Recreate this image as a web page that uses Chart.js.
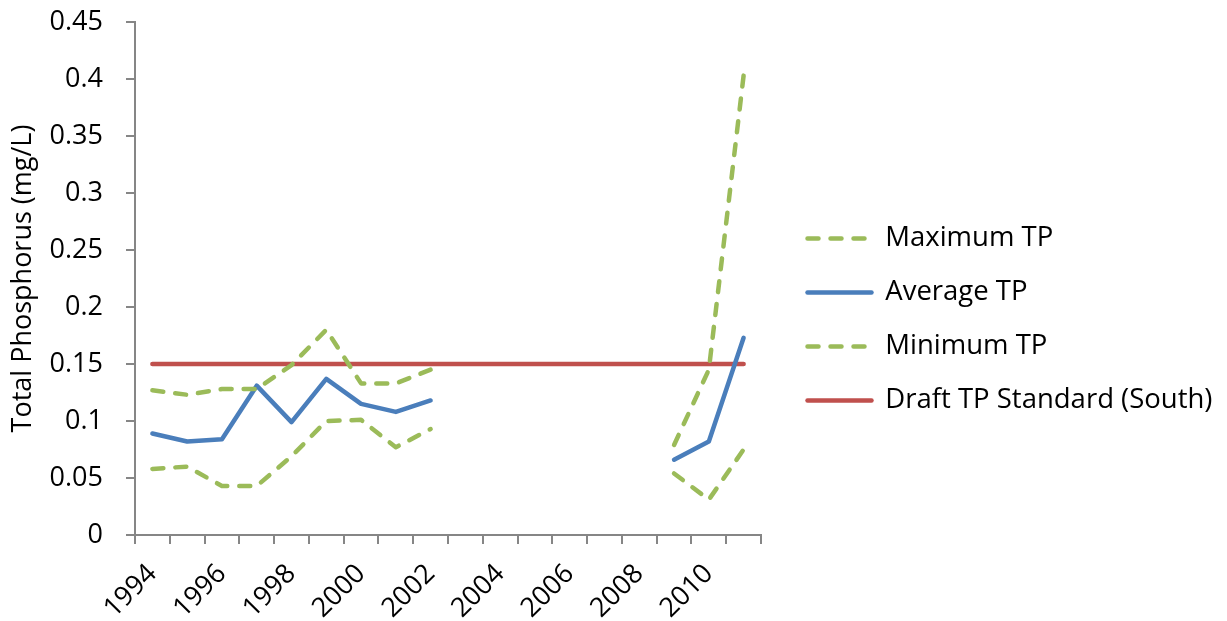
<!DOCTYPE html>
<html>
<head>
<meta charset="utf-8">
<script src="https://cdn.jsdelivr.net/npm/chart.js@4.4.0/dist/chart.umd.min.js"></script>
<style>
  body { margin: 0; background: #fff; }
  canvas { display: block; }
</style>
</head>
<body>
<canvas id="tpChart" width="1227" height="621"></canvas>
<script>
const years = ["1994", "1995", "1996", "1997", "1998", "1999", "2000", "2001", "2002",
  "2003", "2004", "2005", "2006", "2007", "2008", "2009", "2010", "2011"];

const maxTP = [0.127, 0.123, 0.128, 0.128, 0.149, 0.180, 0.133, 0.133, 0.145,
  null, null, null, null, null, null, 0.079, 0.145, 0.403];
const avgTP = [0.089, 0.082, 0.084, 0.131, 0.099, 0.137, 0.115, 0.108, 0.118,
  null, null, null, null, null, null, 0.066, 0.082, 0.173];
const minTP = [0.058, 0.060, 0.043, 0.043, 0.069, 0.100, 0.101, 0.077, 0.093,
  null, null, null, null, null, null, 0.054, 0.031, 0.075];
const standardTP = years.map(() => 0.15);

const FONT = "'Open Sans', 'Noto Sans', sans-serif";
const AXIS_GREY = "#868686";
const LINE_W = 4.5;

// nudge the legend to where Excel puts it and let it use the free space on the right
const legendShift = {
  id: "legendShift",
  afterLayout(chart) {
    const lg = chart.legend;
    lg.left += 20;
    lg.top += 9;
    lg.bottom += 9;
    lg.right = chart.width;
    lg.width = lg.right - lg.left;
  },
};

const ctx = document.getElementById("tpChart").getContext("2d");
new Chart(ctx, {
  type: "line",
  data: {
    labels: years,
    datasets: [
      {
        label: "Maximum TP",
        data: maxTP,
        borderColor: "#9BBB59",
        borderWidth: LINE_W,
        borderDash: [11, 12],
      },
      {
        label: "Average TP",
        data: avgTP,
        borderColor: "#4A7EBB",
        borderWidth: LINE_W,
      },
      {
        label: "Minimum TP",
        data: minTP,
        borderColor: "#9BBB59",
        borderWidth: LINE_W,
        borderDash: [11, 12],
      },
      {
        label: "Draft TP Standard (South)",
        data: standardTP,
        borderColor: "#C0504D",
        borderWidth: LINE_W,
      },
    ],
  },
  options: {
    responsive: false,
    animation: false,
    spanGaps: false,
    layout: { padding: { top: 0, right: 266, bottom: 0, left: 0 } },
    elements: {
      line: { tension: 0, borderCapStyle: "round", borderJoinStyle: "round", fill: false },
      point: { radius: 0, hoverRadius: 0 },
    },
    plugins: {
      tooltip: { enabled: false },
      legend: {
        position: "right",
        maxWidth: 200,
        labels: {
          color: "#000",
          font: { family: FONT, size: 27.5 },
          usePointStyle: true,
          pointStyle: "line",
          pointStyleWidth: 64,
          padding: 26.5,
          generateLabels(chart) {
            const items = Chart.defaults.plugins.legend.labels.generateLabels(chart);
            items.forEach((item) => {
              const ds = chart.data.datasets[item.datasetIndex];
              item.lineDash = ds.borderDash || [];
              item.lineCap = "round";
              item.lineWidth = ds.borderWidth;
              item.strokeStyle = ds.borderColor;
            });
            return items;
          },
        },
      },
    },
    scales: {
      x: {
        offset: true,
        border: { color: AXIS_GREY, width: 2 },
        grid: { offset: true, drawOnChartArea: false, color: AXIS_GREY, lineWidth: 2, tickLength: 9 },
        ticks: {
          autoSkip: false,
          maxRotation: 45,
          minRotation: 45,
          color: "#000",
          font: { family: FONT, size: 27 },
          padding: 14,
          callback: (val, idx) => (idx % 2 === 0 ? years[idx] : ""),
        },
        afterFit: (scale) => { scale.height = 86; },
      },
      y: {
        min: 0,
        max: 0.45,
        border: { color: AXIS_GREY, width: 2 },
        grid: { drawOnChartArea: false, color: AXIS_GREY, lineWidth: 2, tickLength: 9 },
        ticks: {
          stepSize: 0.05,
          color: "#000",
          padding: 23,
          font: { family: FONT, size: 27 },
          callback: (v) => String(parseFloat(v.toFixed(2))),
        },
        title: {
          display: true,
          text: "Total Phosphorus (mg/L)",
          color: "#000",
          font: { family: FONT, size: 27 },
          padding: { top: 7, bottom: 0 },
        },
        afterFit: (scale) => {
          scale.width = 135;
          scale.paddingTop = 22;
        },
      },
    },
  },
  plugins: [legendShift],
});
</script>
</body>
</html>
